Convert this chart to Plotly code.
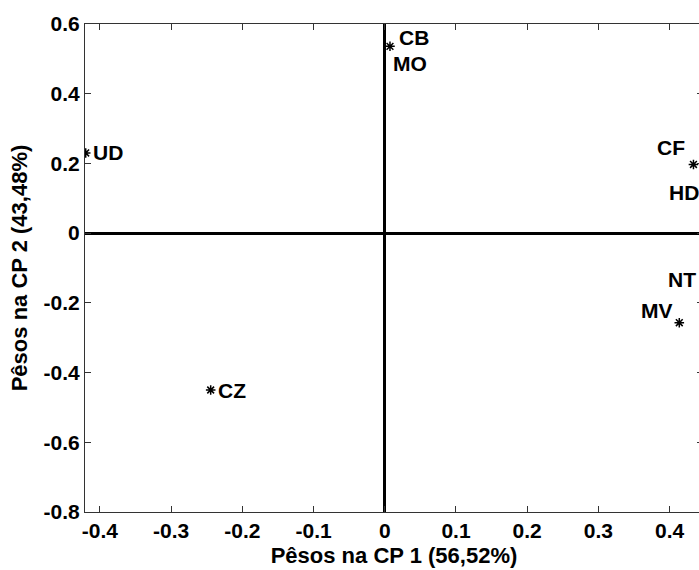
import plotly.graph_objects as go

# Data (PCA loadings)
point_x = [-0.420, 0.0073, 0.4335, 0.4136, -0.2445]
point_y = [0.230, 0.536, 0.197, -0.257, -0.450]

label_names = ["UD", "CB", "MO", "CF", "HD", "NT", "MV", "CZ"]
label_point = [0, 1, 1, 2, 2, 3, 3, 4]  # which point each label belongs to

x_title = "Pêsos na CP 1 (56,52%)"
y_title = "Pêsos na CP 2 (43,48%)"
x_ticks = [-0.4, -0.3, -0.2, -0.1, 0, 0.1, 0.2, 0.3, 0.4]
y_ticks = [-0.8, -0.6, -0.4, -0.2, 0, 0.2, 0.4, 0.6]

# label placement (style): anchor and pixel shifts
label_style = {
    "UD": dict(xanchor="left", yanchor="middle", xshift=5, yshift=0),
    "CB": dict(xanchor="left", yanchor="middle", xshift=7, yshift=9),
    "MO": dict(xanchor="left", yanchor="middle", xshift=1, yshift=-17),
    "CF": dict(xanchor="right", yanchor="middle", xshift=-6, yshift=17),
    "HD": dict(xanchor="left", yanchor="middle", xshift=-26, yshift=-28),
    "NT": dict(xanchor="left", yanchor="middle", xshift=-13, yshift=43),
    "MV": dict(xanchor="right", yanchor="middle", xshift=-4, yshift=12),
    "CZ": dict(xanchor="left", yanchor="middle", xshift=5, yshift=0),
}

FONT = "Liberation Sans, Arial, sans-serif"

fig = go.Figure()
fig.add_trace(go.Scatter(
    x=point_x, y=point_y, mode="markers",
    marker=dict(symbol="asterisk-open", size=8, color="black",
                line=dict(color="black", width=1.5)),
    hoverinfo="skip", showlegend=False,
))

for name, pi in zip(label_names, label_point):
    st = label_style[name]
    fig.add_annotation(
        x=point_x[pi], y=point_y[pi], text=name, showarrow=False,
        font=dict(family=FONT, size=21, color="black", weight="bold"),
        **st,
    )

axis_common = dict(
    showgrid=False,
    showline=True, linecolor="#333333", linewidth=1,
    ticks="inside", ticklen=6, tickcolor="#333333", tickwidth=1,
    zeroline=True, zerolinecolor="black", zerolinewidth=2.5,
    tickfont=dict(family=FONT, size=21, color="black", weight="bold"),
    mirror="ticks",
)

fig.update_xaxes(
    range=[-0.421, 0.4469], tickvals=x_ticks,
    ticktext=["0" if v == 0 else f"{v:g}" for v in x_ticks],
    title=dict(text=x_title, standoff=6,
               font=dict(family=FONT, size=22, color="black", weight="bold")),
    **axis_common,
)
fig.update_yaxes(
    range=[-0.8, 0.6], tickvals=y_ticks,
    ticktext=["0" if v == 0 else f"{v:g}" for v in y_ticks],
    title=dict(text=y_title, standoff=9,
               font=dict(family=FONT, size=22, color="black", weight="bold")),
    **axis_common,
)

# The plot frame runs slightly past the right edge of the window, as in the
# reference; the page margin is removed and overflow hidden.
fig.update_layout(
    width=705, height=570,
    margin=dict(l=85, r=2, t=24, b=58),
    plot_bgcolor="white", paper_bgcolor="white",
    showlegend=False,
)

fig.write_html(
    "out.html",
    config={"displayModeBar": False},
    post_script=("document.documentElement.style.overflow='hidden';"
                 "document.body.style.margin='0';"
                 "document.body.style.overflow='hidden';"),
)
